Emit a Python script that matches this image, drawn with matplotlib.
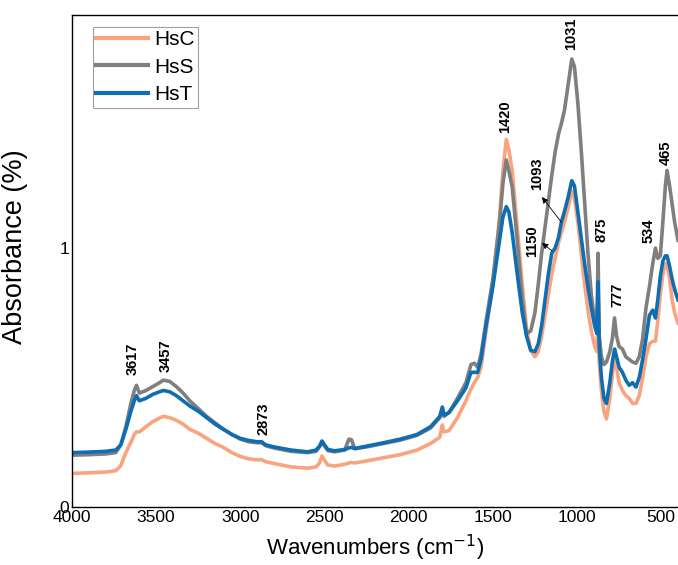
import matplotlib
matplotlib.use("Agg")
import matplotlib.pyplot as plt

plt.rcParams['font.family'] = ['Liberation Sans', 'DejaVu Sans']

# FTIR spectra
wavenumber = [4000, 3900, 3800, 3740, 3710, 3680, 3650, 3630, 3617, 3600,
              3560, 3520, 3480, 3457, 3420, 3380, 3340, 3300, 3250, 3200,
              3150, 3100, 3050, 3000, 2950, 2900, 2873, 2850, 2800, 2700,
              2600, 2550, 2530, 2515, 2500, 2480, 2440, 2380, 2355, 2340,
              2320, 2250, 2150, 2050, 1950, 1870, 1815, 1800, 1790, 1760,
              1710, 1660, 1630, 1610, 1590, 1570, 1540, 1500, 1460, 1440,
              1420, 1405, 1385, 1355, 1325, 1300, 1275, 1250, 1230, 1210,
              1190, 1170, 1150, 1130, 1110, 1093, 1075, 1055, 1031, 1015,
              995, 975, 955, 935, 915, 895, 882, 875, 868, 855,
              840, 825, 805, 790, 777, 765, 750, 730, 710, 690,
              670, 650, 630, 610, 590, 570, 550, 534, 520, 505,
              490, 475, 465, 450, 435, 420, 400]

hsc = [0.13, 0.132, 0.135, 0.14, 0.16, 0.21, 0.25, 0.28, 0.29, 0.29,
       0.31, 0.33, 0.343, 0.35, 0.345, 0.335, 0.32, 0.30, 0.285, 0.265,
       0.245, 0.23, 0.21, 0.195, 0.186, 0.182, 0.183, 0.175, 0.168, 0.155,
       0.15, 0.155, 0.17, 0.197, 0.18, 0.162, 0.158, 0.165, 0.17, 0.172,
       0.17, 0.178, 0.19, 0.202, 0.22, 0.245, 0.27, 0.317, 0.29, 0.295,
       0.345, 0.41, 0.455, 0.48, 0.50, 0.54, 0.68, 0.86, 1.12, 1.30,
       1.42, 1.38, 1.30, 1.08, 0.86, 0.69, 0.605, 0.58, 0.60, 0.66,
       0.74, 0.82, 0.90, 0.96, 1.02, 1.06, 1.10, 1.15, 1.22, 1.19,
       1.10, 0.98, 0.86, 0.76, 0.68, 0.62, 0.60, 0.78, 0.56, 0.45,
       0.37, 0.34, 0.42, 0.51, 0.58, 0.54, 0.48, 0.45, 0.43, 0.42,
       0.40, 0.40, 0.43, 0.50, 0.58, 0.63, 0.64, 0.64, 0.72, 0.82,
       0.90, 0.94, 0.94, 0.88, 0.80, 0.75, 0.71]

hss = [0.20, 0.202, 0.205, 0.21, 0.24, 0.31, 0.40, 0.45, 0.47, 0.44,
       0.45, 0.465, 0.48, 0.49, 0.485, 0.465, 0.44, 0.41, 0.38, 0.35,
       0.325, 0.30, 0.28, 0.262, 0.252, 0.248, 0.248, 0.237, 0.228, 0.215,
       0.21, 0.215, 0.232, 0.25, 0.235, 0.218, 0.213, 0.22, 0.262, 0.26,
       0.225, 0.232, 0.245, 0.258, 0.277, 0.305, 0.345, 0.38, 0.35, 0.365,
       0.42, 0.48, 0.55, 0.555, 0.54, 0.59, 0.72, 0.88, 1.10, 1.25,
       1.34, 1.30, 1.235, 1.03, 0.80, 0.67, 0.68, 0.75, 0.86, 0.98,
       1.08, 1.18, 1.28, 1.37, 1.44, 1.48, 1.53, 1.62, 1.73, 1.70,
       1.56, 1.38, 1.18, 0.98, 0.82, 0.72, 0.68, 0.98, 0.66, 0.58,
       0.55, 0.56, 0.60, 0.65, 0.73, 0.66, 0.62, 0.61, 0.58, 0.57,
       0.56, 0.555, 0.58, 0.65, 0.77, 0.85, 0.94, 1.00, 0.96, 0.97,
       1.10, 1.24, 1.30, 1.24, 1.17, 1.10, 1.03]

hst = [0.21, 0.212, 0.215, 0.22, 0.24, 0.30, 0.37, 0.41, 0.43, 0.41,
       0.42, 0.435, 0.445, 0.45, 0.445, 0.43, 0.41, 0.39, 0.37, 0.345,
       0.32, 0.30, 0.28, 0.265, 0.257, 0.252, 0.252, 0.24, 0.232, 0.22,
       0.213, 0.22, 0.235, 0.255, 0.24, 0.222, 0.217, 0.222, 0.228, 0.23,
       0.226, 0.235, 0.248, 0.262, 0.28, 0.31, 0.35, 0.386, 0.355, 0.365,
       0.41, 0.46, 0.52, 0.52, 0.52, 0.57, 0.70, 0.85, 1.03, 1.12,
       1.16, 1.14, 1.06, 0.90, 0.75, 0.66, 0.605, 0.60, 0.63, 0.70,
       0.80, 0.90, 0.98, 1.00, 1.04, 1.10, 1.14, 1.19, 1.26, 1.24,
       1.14, 1.04, 0.94, 0.85, 0.77, 0.70, 0.67, 0.87, 0.62, 0.50,
       0.42, 0.40, 0.48, 0.56, 0.61, 0.58, 0.54, 0.52, 0.49, 0.47,
       0.48, 0.463, 0.50, 0.57, 0.65, 0.74, 0.76, 0.73, 0.80, 0.89,
       0.95, 0.97, 0.97, 0.93, 0.88, 0.84, 0.80]

# band labels: text, x, y of the label's lower end
peak_labels = ["3617", "3457", "2873", "1420", "1031", "875", "777", "534", "465"]
peak_x = [3640, 3442, 2860, 1428, 1036, 852, 763, 573, 472]
peak_y = [0.51, 0.52, 0.278, 1.444, 1.765, 1.023, 0.772, 1.019, 1.32]

# arrowed shoulder labels on HsT
shoulder_labels = ["1093", "1150"]
shoulder_text_x = [1238, 1268]
shoulder_text_y = [1.224, 0.965]
shoulder_head = [(1208, 1.197), (1208, 1.02)]
shoulder_tail = [(1093, 1.10), (1150, 0.99)]

fig = plt.figure(figsize=(6.78, 5.65), dpi=100)
ax = fig.add_axes([72 / 678, 1 - 507 / 565, 606 / 678, 492 / 565])

ax.plot(wavenumber, hsc, color='#F9A47E', lw=2.6, label='HsC')
ax.plot(wavenumber, hss, color='#7F7F7F', lw=2.6, label='HsS')
ax.plot(wavenumber, hst, color='#0E6DB3', lw=2.6, label='HsT')

for lab, x, y in zip(peak_labels, peak_x, peak_y):
    ax.text(x, y, lab, rotation=90, ha='center', va='bottom',
            fontsize=10.5, fontweight='bold')

for lab, x, y, head, tail in zip(shoulder_labels, shoulder_text_x, shoulder_text_y,
                                 shoulder_head, shoulder_tail):
    ax.text(x, y, lab, rotation=90, ha='center', va='bottom',
            fontsize=10.5, fontweight='bold')
    ax.annotate('', xy=head, xytext=tail,
                arrowprops=dict(arrowstyle='-|>', color='black', lw=0.6,
                                mutation_scale=9, shrinkA=0, shrinkB=0))

ax.set_xlim(4000, 400)
ax.set_ylim(0, 1.9)
ax.set_xticks([4000, 3500, 3000, 2500, 2000, 1500, 1000, 500])
ax.set_yticks([0, 1])
ax.tick_params(length=0, labelsize=12.5, pad=2)
ax.spines['right'].set_visible(False)
for s in ['left', 'bottom', 'top']:
    ax.spines[s].set_linewidth(1.0)

ax.set_xlabel('Wavenumbers (cm$^{-1}$)', fontsize=16, labelpad=6)
ax.set_ylabel('Absorbance (%)', fontsize=19.5)
ax.yaxis.set_label_coords(-0.072, 0.53)

leg = ax.legend(loc='upper left', bbox_to_anchor=(0.035, 0.976), borderaxespad=0,
                fontsize=15, handlelength=2.5, handletextpad=0.3,
                borderpad=0.15, labelspacing=0.42, fancybox=False)
leg.get_frame().set_edgecolor('#888888')
leg.get_frame().set_linewidth(0.8)
for line in leg.get_lines():
    line.set_linewidth(3)

fig.savefig('out.png', dpi=100)
